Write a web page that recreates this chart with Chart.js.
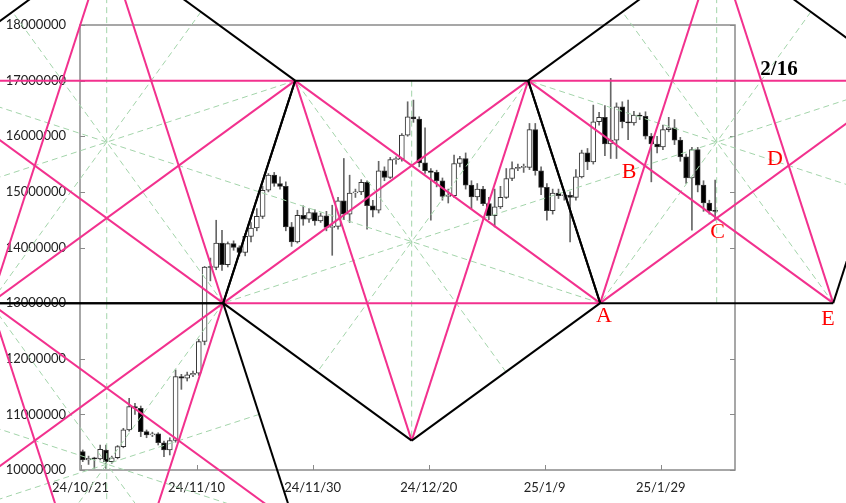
<!DOCTYPE html>
<html><head><meta charset="utf-8">
<script src="https://cdn.jsdelivr.net/npm/chart.js@4.4.1/dist/chart.umd.min.js"></script>
<style>html,body{margin:0;padding:0;background:#fff;}canvas{display:block;}</style>
</head><body>
<canvas id="c" width="846" height="503"></canvas>
<script>
// ---------- data ----------
const baseDate = '2024-10-21';
const dates = [
'2024-10-21','2024-10-22','2024-10-23','2024-10-24','2024-10-25','2024-10-26','2024-10-27','2024-10-28','2024-10-29','2024-10-30','2024-10-31',
'2024-11-01','2024-11-02','2024-11-03','2024-11-04','2024-11-05','2024-11-06','2024-11-07','2024-11-08','2024-11-09','2024-11-10',
'2024-11-11','2024-11-12','2024-11-13','2024-11-14','2024-11-15','2024-11-16','2024-11-17','2024-11-18','2024-11-19','2024-11-20',
'2024-11-21','2024-11-22','2024-11-23','2024-11-24','2024-11-25','2024-11-26','2024-11-27','2024-11-28','2024-11-29','2024-11-30',
'2024-12-01','2024-12-02','2024-12-03','2024-12-04','2024-12-05','2024-12-06','2024-12-07','2024-12-08','2024-12-09','2024-12-10',
'2024-12-11','2024-12-12','2024-12-13','2024-12-14','2024-12-15','2024-12-16','2024-12-17','2024-12-18','2024-12-19','2024-12-20',
'2024-12-21','2024-12-22','2024-12-23','2024-12-24','2024-12-25','2024-12-26','2024-12-27','2024-12-28','2024-12-29','2024-12-30','2024-12-31',
'2025-01-01','2025-01-02','2025-01-03','2025-01-04','2025-01-05','2025-01-06','2025-01-07','2025-01-08','2025-01-09','2025-01-10',
'2025-01-11','2025-01-12','2025-01-13','2025-01-14','2025-01-15','2025-01-16','2025-01-17','2025-01-18','2025-01-19','2025-01-20',
'2025-01-21','2025-01-22','2025-01-23','2025-01-24','2025-01-25','2025-01-26','2025-01-27','2025-01-28','2025-01-29','2025-01-30','2025-01-31',
'2025-02-01','2025-02-02','2025-02-03','2025-02-04','2025-02-05','2025-02-06','2025-02-07'];
const opens = [10330000,10180000,10210000,10200000,10360000,10150000,10220000,10420000,10720000,11140000,11110000,
10690000,10630000,10650000,10490000,10360000,10530000,11680000,11650000,11710000,11740000,
12310000,13650000,13640000,14080000,13690000,14070000,14000000,13910000,14200000,14350000,
14560000,15030000,15300000,15150000,15100000,14370000,14100000,14580000,14510000,14630000,
14480000,14570000,14360000,14380000,14840000,14600000,14980000,15000000,15170000,14750000,
14670000,15380000,15260000,15580000,15590000,16020000,16350000,16310000,15520000,15380000,
15350000,15200000,14920000,14930000,15510000,15600000,15120000,14910000,15050000,14790000,14570000,
14730000,14900000,15240000,15420000,15440000,15440000,16120000,15380000,15080000,14660000,
14980000,14930000,14940000,14900000,15270000,15700000,15540000,16260000,16340000,15860000,
15930000,16530000,16260000,16240000,16380000,16360000,16000000,15860000,15810000,16120000,16150000,
15930000,15630000,15250000,15760000,15120000,14800000,14660000];
const highs = [10360000,10250000,10230000,10450000,10450000,10250000,10440000,10750000,11290000,11200000,11150000,
10720000,10680000,10670000,10520000,10580000,11800000,11720000,11760000,11780000,12350000,
13660000,13810000,14490000,14310000,14100000,14120000,14030000,14250000,14450000,14700000,
15100000,15330000,15350000,15270000,15180000,14450000,14670000,14750000,14700000,14680000,
14620000,14650000,14760000,14900000,15600000,15300000,15050000,15220000,15200000,14850000,
15550000,15450000,15620000,15630000,16050000,16620000,16650000,16350000,16150000,15420000,
15390000,15250000,15050000,15660000,15640000,15700000,15200000,15150000,15100000,14900000,15050000,
15100000,15420000,15540000,15500000,15500000,16230000,16230000,15450000,15150000,15050000,
15050000,15030000,15000000,15400000,15750000,15780000,16560000,16430000,16550000,17040000,
16600000,16620000,16650000,16450000,16420000,16440000,16050000,16000000,16200000,16340000,16300000,
15980000,15680000,15800000,15800000,15200000,14850000,15210000];
const lows = [10150000,10100000,10030000,10180000,10030000,10120000,10200000,10400000,10700000,11000000,10600000,
10580000,10600000,10450000,10240000,10270000,10500000,11450000,11600000,11680000,11700000,
12250000,13400000,13600000,13590000,13650000,13950000,13850000,13850000,14100000,14300000,
14520000,15000000,15100000,15050000,14300000,14020000,14080000,14400000,14450000,14400000,
14450000,14300000,13860000,14330000,14500000,14450000,14900000,14950000,14330000,14550000,
14620000,15200000,15240000,15500000,15550000,16000000,16250000,15450000,15330000,14490000,
15090000,14850000,14800000,14900000,15450000,15050000,14700000,14850000,14750000,14500000,14370000,
14700000,14880000,15200000,15380000,15350000,15400000,15300000,14950000,14490000,14600000,
14880000,14850000,14100000,14850000,15250000,15400000,15500000,16200000,15650000,15600000,
15600000,16150000,15940000,16200000,16300000,15950000,15180000,15700000,15760000,16080000,15850000,
15550000,15150000,14310000,15000000,14650000,14600000,14490000];
const closes = [10180000,10210000,10200000,10370000,10150000,10220000,10420000,10720000,11140000,11110000,10690000,
10630000,10650000,10490000,10360000,10530000,11680000,11650000,11710000,11740000,12310000,
13650000,13640000,14080000,13690000,14070000,14000000,13910000,14200000,14350000,14560000,
15030000,15300000,15150000,15100000,14370000,14100000,14580000,14510000,14630000,14480000,
14570000,14360000,14380000,14840000,14600000,14980000,15000000,15170000,14750000,14670000,
15380000,15260000,15580000,15590000,16020000,16350000,16310000,15520000,15380000,15350000,
15200000,14920000,14930000,15510000,15600000,15120000,14910000,15050000,14790000,14570000,14730000,
14900000,15240000,15420000,15440000,15440000,16120000,15380000,15080000,14660000,14980000,
14930000,14940000,14900000,15270000,15700000,15540000,16260000,16340000,15860000,15930000,
16530000,16260000,16240000,16380000,16360000,16000000,15860000,15810000,16120000,16150000,15930000,
15630000,15250000,15760000,15120000,14800000,14660000,14650000];

// tick labels
const xTickDates = ['2024-10-21','2024-11-10','2024-11-30','2024-12-20','2025-01-09','2025-01-29'];
const xTickLabels = ['24/10/21','24/11/10','24/11/30','24/12/20','25/1/9','25/1/29'];
const yTickValues = [10000000,11000000,12000000,13000000,14000000,15000000,16000000,17000000,18000000];
const yTickLabels = ['10000000','11000000','12000000','13000000','14000000','15000000','16000000','17000000','18000000'];

// pentagon vertices (days since baseDate, price), in order around each figure
const pentG1Days = [4.50, 36.99, 24.58, -15.56, -27.97];
const pentG1Prices = [19472000, 17000000, 13000000, 13000000, 17000000];
const pentG2Days = [36.99, 77.15, 89.56, 57.07, 24.58];
const pentG2Prices = [17000000, 17000000, 13000000, 10528000, 13000000];
const pentG3Days = [109.64, 142.12, 129.73, 89.56, 77.15];
const pentG3Prices = [19472000, 17000000, 13000000, 13000000, 17000000];
const pentG4Days = [24.58, 36.99, 4.50, -27.97, -15.56];
const pentG4Prices = [13000000, 9000000, 6528000, 9000000, 13000000];

// text marks
const markTexts = ['A','B','C','D','E','2/16'];
const markDays = [90.22, 94.53, 109.78, 119.70, 128.83, 120.39];
const markPrices = [12769000, 15348000, 14270000, 15582000, 12715000, 17191000];

// ---------- build ----------
const dayOf = s => (Date.parse(s) - Date.parse(baseDate)) / 86400000;
const candleOffset = 0.375; // daily candle stamped at 09:00
const cxs = dates.map(s => dayOf(s) + candleOffset);
const wickData = cxs.map((x, i) => ({x, y: [lows[i], highs[i]]}));
const bodyData = cxs.map((x, i) => ({x, y: [opens[i], closes[i]]}));
const bodyFill = opens.map((o, i) => closes[i] >= o ? '#ffffff' : '#000000');

const PINK = '#f2318e', BLACK = '#000000', GREEN = '#a3d4aa';
function seg(x1, y1, x2, y2, color, width, dash, order) {
  const pts = x1 >= x2 ? [{x: x1, y: y1}, {x: x2, y: y2}] : [{x: x2, y: y2}, {x: x1, y: y1}];
  return {type: 'line', data: pts, borderColor: color, borderWidth: width, borderDash: dash,
    pointRadius: 0, pointHoverRadius: 0, fill: false, clip: false, tension: 0, order};
}
const overlay = [];
[[pentG1Days, pentG1Prices], [pentG2Days, pentG2Prices], [pentG3Days, pentG3Prices], [pentG4Days, pentG4Prices]]
.forEach(([ds, ps]) => {
  for (let i = 0; i < 5; i++) {
    const j = (i + 1) % 5, k = (i + 2) % 5, l = (i + 3) % 5;
    overlay.push(seg(ds[i], ps[i], (ds[k] + ds[l]) / 2, (ps[k] + ps[l]) / 2, GREEN, 1, [6, 4], 4));
    overlay.push(seg(ds[i], ps[i], ds[k], ps[k], PINK, 2, [], 3));
    overlay.push(seg(ds[i], ps[i], ds[j], ps[j], BLACK, 2, [], 2));
  }
});

const markFonts = ['22px "Liberation Serif"','22px "Liberation Serif"','22px "Liberation Serif"','22px "Liberation Serif"','22px "Liberation Serif"','bold 21px "Liberation Serif"'];
const markColors = ['#ff0000','#ff0000','#ff0000','#ff0000','#ff0000','#000000'];

const framePlugin = {
  id: 'frame',
  beforeDatasetsDraw(chart) {
    const {ctx, chartArea: a, scales: {x, y}} = chart;
    ctx.save();
    ctx.strokeStyle = '#8a8a8a';
    ctx.lineWidth = 1.5;
    ctx.strokeRect(a.left, a.top, a.right - a.left, a.bottom - a.top);
    ctx.beginPath();
    x.ticks.forEach(t => { const p = Math.round(x.getPixelForValue(t.value)) + 0.5; ctx.moveTo(p, a.bottom); ctx.lineTo(p, a.bottom - 5); });
    y.ticks.forEach(t => { const p = Math.round(y.getPixelForValue(t.value)) + 0.5;
      ctx.moveTo(a.left, p); ctx.lineTo(a.left + 5, p); ctx.moveTo(a.right, p); ctx.lineTo(a.right - 5, p); });
    ctx.lineWidth = 1;
    ctx.stroke();
    ctx.restore();
  },
  afterDraw(chart) {
    const {ctx, scales: {x, y}} = chart;
    ctx.save();
    ctx.textAlign = 'center';
    ctx.textBaseline = 'middle';
    markTexts.forEach((t, i) => {
      ctx.font = markFonts[i];
      ctx.fillStyle = markColors[i];
      ctx.fillText(t, x.getPixelForValue(markDays[i]), y.getPixelForValue(markPrices[i]));
    });
    ctx.restore();
  }
};

new Chart(document.getElementById('c'), {
  type: 'bar',
  data: {
    datasets: [
      {type: 'bar', data: wickData, backgroundColor: '#666666', barThickness: 1, grouped: false, order: 6},
      {type: 'bar', data: bodyData, backgroundColor: bodyFill, borderColor: '#333333', borderWidth: 1,
       borderSkipped: false, barThickness: 5, grouped: false, minBarLength: 1, order: 5},
      ...overlay
    ]
  },
  options: {
    responsive: false, animation: false, devicePixelRatio: 1, events: [],
    layout: {padding: {top: 25, right: 111, bottom: 0, left: 0}},
    plugins: {legend: {display: false}, tooltip: {enabled: false}},
    scales: {
      x: {type: 'linear', min: -0.1, max: 112.8, offset: false,
        grid: {display: false, drawTicks: false, offset: false}, border: {display: false},
        afterBuildTicks: ax => { ax.ticks = xTickDates.map(s => ({value: dayOf(s)})); },
        afterFit: ax => { ax.height = 33; },
        ticks: {autoSkip: false, maxRotation: 0, padding: 10, color: '#222',
          font: {family: 'Lato', size: 13}, callback: (v, i) => xTickLabels[i]}},
      y: {type: 'linear', min: 10000000, max: 18000000,
        grid: {display: false, drawTicks: false}, border: {display: false},
        afterBuildTicks: ax => { ax.ticks = yTickValues.map(v => ({value: v})); },
        afterFit: ax => { ax.width = 80; },
        ticks: {padding: 14, color: '#222', font: {family: 'Lato', size: 13},
          callback: (v, i) => yTickLabels[i]}}
    }
  },
  plugins: [framePlugin]
});
</script>
</body></html>
